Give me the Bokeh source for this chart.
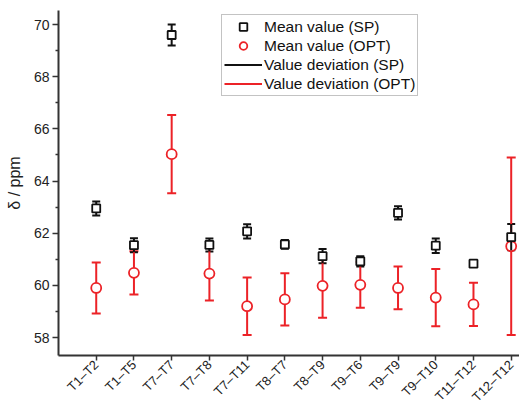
import math
from bokeh.plotting import figure
from bokeh.models import (ColumnDataSource, Whisker, TeeHead, FixedTicker,
                          Legend, LegendItem, Range1d)
from bokeh.embed import file_html
from bokeh.resources import INLINE

categories = ["T1–T2", "T1–T5", "T7–T7", "T7–T8", "T7–T11", "T8–T7",
              "T8–T9", "T9–T6", "T9–T9", "T9–T10", "T11–T12", "T12–T12"]
sp_mean = [62.95, 61.54, 69.6, 61.55, 62.07, 61.57, 61.12, 60.92, 62.78, 61.52, 60.83, 61.85]
sp_dev = [0.27, 0.27, 0.4, 0.25, 0.27, 0.17, 0.27, 0.2, 0.25, 0.28, 0.1, 0.5]
opt_mean = [59.9, 60.48, 65.03, 60.45, 59.2, 59.46, 59.98, 60.02, 59.9, 59.53, 59.27, 61.5]
opt_dev = [0.98, 0.83, 1.5, 1.03, 1.1, 1.0, 1.22, 0.88, 0.82, 1.1, 0.83, 3.4]
y_major = [58, 60, 62, 64, 66, 68, 70]
y_minor = [59, 61, 63, 65, 67, 69]

RED = "#ec2227"
BLACK = "#111111"
AXIS = "#333333"
FONT = "Liberation Sans"

xs = list(range(1, len(categories) + 1))

sp = ColumnDataSource(dict(
    x=xs, y=sp_mean,
    lo=[m - d for m, d in zip(sp_mean, sp_dev)],
    hi=[m + d for m, d in zip(sp_mean, sp_dev)]))
opt = ColumnDataSource(dict(
    x=xs, y=opt_mean,
    lo=[m - d for m, d in zip(opt_mean, opt_dev)],
    hi=[m + d for m, d in zip(opt_mean, opt_dev)]))

p = figure(frame_width=461, frame_height=345, output_backend="svg",
           toolbar_location=None,
           x_range=Range1d(0, 12.22), y_range=Range1d(57.31, 70.54),
           min_border_left=58, min_border_top=10, min_border_right=0,
           min_border_bottom=0)
p.outline_line_color = None
p.grid.visible = False

# error bars (OPT first, then SP on top)
opt_seg = p.segment(x0="x", y0="lo", x1="x", y1="hi", source=opt,
                    line_color=RED, line_width=2)
p.add_layout(Whisker(base="x", lower="lo", upper="hi", source=opt,
                     line_alpha=0,
                     upper_head=TeeHead(size=9, line_color=RED, line_width=2),
                     lower_head=TeeHead(size=9, line_color=RED, line_width=2)))
opt_r = p.scatter("x", "y", source=opt, marker="circle", size=10,
                  fill_color="white", line_color=RED, line_width=1.8)

sp_seg = p.segment(x0="x", y0="lo", x1="x", y1="hi", source=sp,
                   line_color=BLACK, line_width=2)
p.add_layout(Whisker(base="x", lower="lo", upper="hi", source=sp,
                     line_alpha=0,
                     upper_head=TeeHead(size=8, line_color=BLACK, line_width=2),
                     lower_head=TeeHead(size=8, line_color=BLACK, line_width=2)))
sp_r = p.scatter("x", "y", source=sp, marker="square", size=8,
                 fill_color="white", line_color=BLACK, line_width=1.8)

# axes
p.xaxis.ticker = FixedTicker(ticks=xs)
p.xaxis.major_label_overrides = {x: c for x, c in zip(xs, categories)}
p.xaxis.major_label_orientation = math.pi / 4
p.yaxis.ticker = FixedTicker(ticks=y_major, minor_ticks=y_minor)
p.yaxis.axis_label = "δ / ppm"

for ax in (p.xaxis, p.yaxis):
    ax.axis_line_color = AXIS
    ax.axis_line_width = 2
    ax.major_tick_line_color = AXIS
    ax.major_tick_line_width = 1.5
    ax.minor_tick_line_color = AXIS
    ax.minor_tick_line_width = 1.5
    ax.major_tick_in = 0
    ax.major_tick_out = 6
    ax.minor_tick_in = 0
    ax.minor_tick_out = 3
    ax.major_label_text_font = FONT
    ax.major_label_text_font_size = "14px"
    ax.major_label_text_color = "#222222"
    ax.major_label_standoff = 3
    ax.axis_label_text_font = FONT
    ax.axis_label_text_font_size = "16px"
    ax.axis_label_text_font_style = "normal"
    ax.axis_label_text_color = "#222222"
    ax.axis_label_standoff = 8
p.xaxis.minor_tick_out = 0
p.xaxis.major_tick_out = 5
p.xaxis.major_label_text_font_size = "13px"
p.xaxis.major_label_standoff = 2

legend = Legend(items=[
    LegendItem(label="Mean value (SP)", renderers=[sp_r]),
    LegendItem(label="Mean value (OPT)", renderers=[opt_r]),
    LegendItem(label="Value deviation (SP)", renderers=[sp_seg]),
    LegendItem(label="Value deviation (OPT)", renderers=[opt_seg]),
], location=(163, 259))
legend.label_text_font = FONT
legend.label_text_font_size = "15.5px"
legend.label_text_color = "#111111"
legend.label_standoff = 2
legend.label_height = 19
legend.glyph_height = 19
legend.glyph_width = 38
legend.spacing = 0
legend.padding = 2
legend.margin = 0
legend.border_line_color = "#888888"
legend.border_line_width = 1
legend.background_fill_color = "white"
legend.background_fill_alpha = 1
p.add_layout(legend)

open("out.html", "w").write(file_html(p, INLINE))
